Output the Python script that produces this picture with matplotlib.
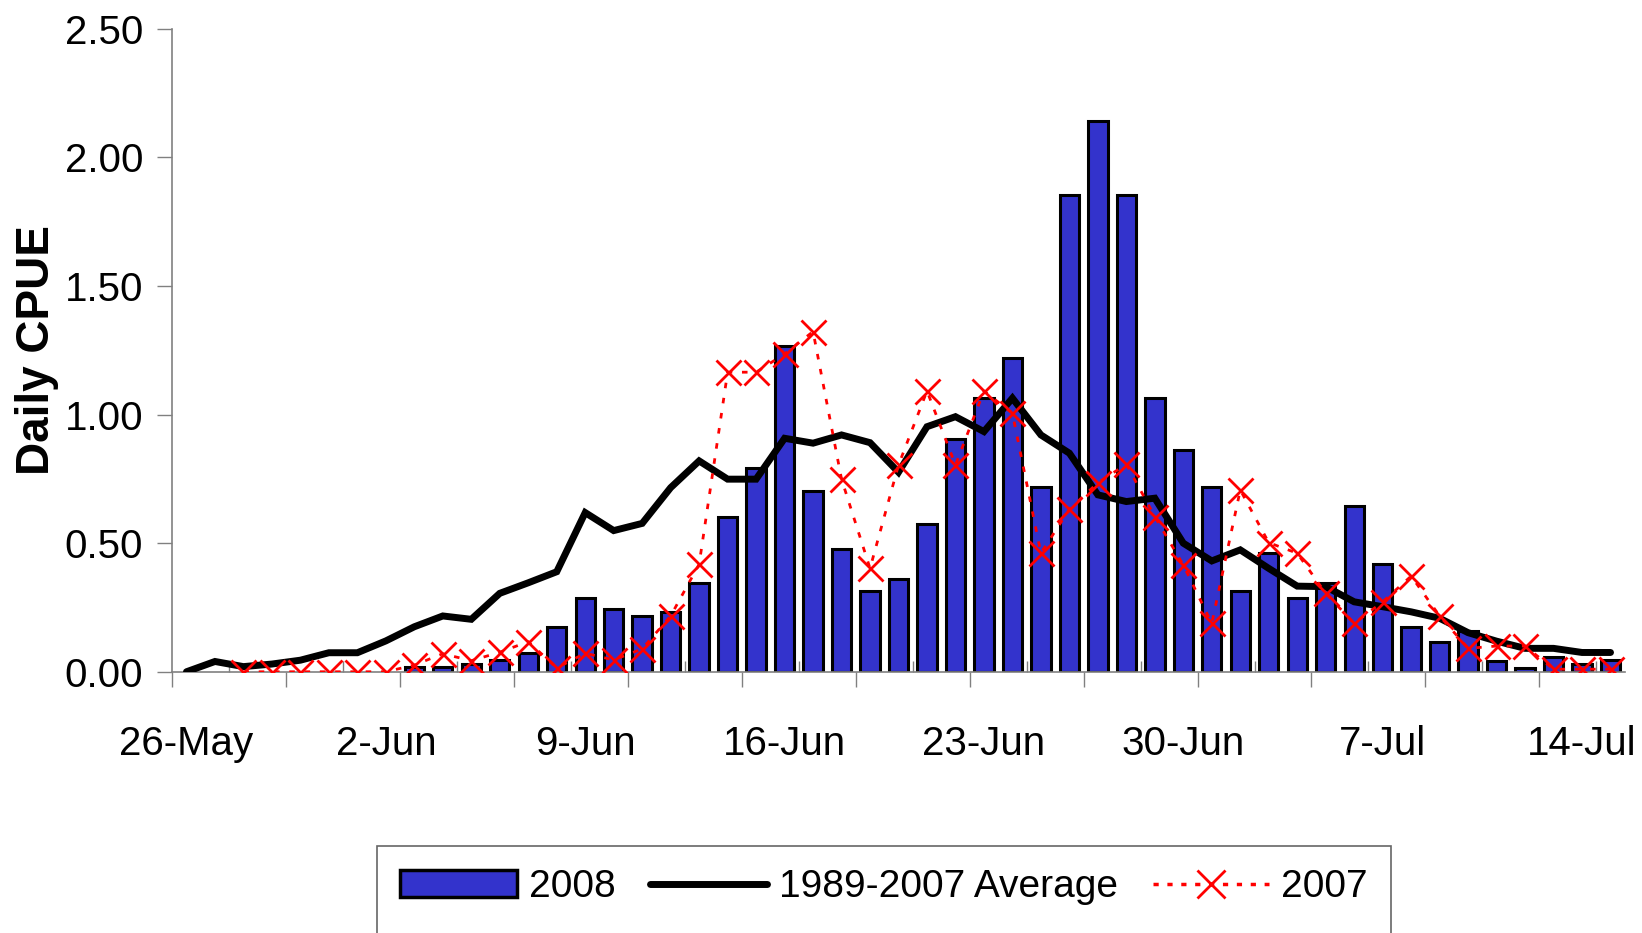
import numpy as np
import matplotlib
matplotlib.use('Agg')
from matplotlib import pyplot as plt
from matplotlib.patches import Rectangle
from matplotlib.lines import Line2D

plt.rcParams['font.family'] = ['Liberation Sans', 'DejaVu Sans']

# day index 0 = 26-May, 50 = 15-Jul
days = np.arange(51)
date_labels = ['26-May', '2-Jun', '9-Jun', '16-Jun', '23-Jun', '30-Jun', '7-Jul', '14-Jul']
label_days = [0, 7, 14, 21, 28, 35, 42, 49]

# 2008 daily CPUE (bars), starts 3-Jun (day 8)
cpue_2008_days = np.arange(8, 51)
cpue_2008 = [0.017, 0.017, 0.03, 0.045, 0.074, 0.173, 0.287, 0.244, 0.217, 0.231,
             0.344, 0.603, 0.791, 1.265, 0.704, 0.476, 0.315, 0.36, 0.575, 0.905,
             1.064, 1.219, 0.717, 1.855, 2.14, 1.855, 1.064, 0.863, 0.717, 0.315,
             0.461, 0.288, 0.346, 0.646, 0.418, 0.173, 0.114, 0.158, 0.043, 0.016,
             0.056, 0.03, 0.045]

# 1989-2007 average
avg_8907 = [0.0, 0.04, 0.02, 0.03, 0.045, 0.074, 0.074, 0.12, 0.175, 0.217,
            0.204, 0.305, 0.346, 0.389, 0.619, 0.549, 0.577, 0.716, 0.82, 0.749,
            0.749, 0.908, 0.889, 0.921, 0.891, 0.776, 0.953, 0.992, 0.934, 1.064,
            0.921, 0.85, 0.688, 0.662, 0.675, 0.5, 0.431, 0.474, 0.402, 0.333,
            0.331, 0.272, 0.253, 0.233, 0.208, 0.152, 0.119, 0.091, 0.091, 0.075,
            0.075]

# 2007, starts 28-May (day 2)
cpue_2007_days = np.arange(2, 51)
cpue_2007 = [0.0, 0.0, 0.0, 0.0, 0.0, 0.0, 0.026, 0.07, 0.043, 0.076,
             0.117, 0.015, 0.072, 0.046, 0.089, 0.217, 0.418, 1.165, 1.165, 1.236,
             1.323, 0.749, 0.402, 0.804, 1.092, 0.804, 1.092, 1.005, 0.461, 0.632,
             0.735, 0.807, 0.603, 0.415, 0.188, 0.707, 0.502, 0.461, 0.305, 0.188,
             0.272, 0.372, 0.217, 0.091, 0.1, 0.1, 0.01, 0.01, 0.01]

bar_blue = '#3333CC'
axis_grey = '#808080'

fig = plt.figure(figsize=(16.42, 9.33), dpi=100)
ax = fig.add_axes([0.1049, 0.28, 0.8846, 0.689])

ax.bar(cpue_2008_days, cpue_2008, width=0.68, color=bar_blue, edgecolor='black', linewidth=2.2, zorder=2)
ax.plot(days, avg_8907, color='black', linewidth=5, solid_joinstyle='miter', solid_capstyle='round', zorder=3)
ax.plot(cpue_2007_days, cpue_2007, color='#FF0000', linewidth=2, linestyle=(0, (2, 3.5)),
        marker='x', markersize=18, markeredgewidth=2, zorder=4)

ax.set_xlim(-0.5, 50.5)
ax.set_ylim(0, 2.5)

ax.set_yticks(np.arange(0, 2.51, 0.5))
ax.set_yticklabels(['%.2f' % v for v in np.arange(0, 2.51, 0.5)])
ax.tick_params(axis='y', direction='out', length=11, width=1, color=axis_grey, labelsize=29, pad=10)

ax.set_xticks(label_days)
ax.set_xticklabels(date_labels)
ax.set_xticks(np.arange(-0.5, 51, 4), minor=True)
ax.tick_params(axis='x', which='major', length=0, labelsize=29, pad=38)
ax.tick_params(axis='x', which='minor', direction='out', length=11, width=1, color=axis_grey)

sec = ax.secondary_xaxis('bottom')
sec.set_xticks(np.arange(1.5, 51, 4))
sec.tick_params(axis='x', direction='in', length=8, width=1, color=axis_grey, labelbottom=False)
sec.spines['bottom'].set_visible(False)

for s in ['top', 'right']:
    ax.spines[s].set_visible(False)
for s in ['left', 'bottom']:
    ax.spines[s].set_color(axis_grey)
    ax.spines[s].set_linewidth(1.2)

ax.set_ylabel('Daily CPUE', fontsize=33, fontweight='bold', labelpad=4)

# legend box runs off the bottom of the image in the original, so pad it with an empty row
blank = Line2D([], [], linestyle='none')
handles = [Rectangle((0, 0), 1, 1, facecolor=bar_blue, edgecolor='black', linewidth=2.5), blank,
           Line2D([], [], color='black', linewidth=5, solid_capstyle='round'), blank,
           Line2D([], [], color='#FF0000', linewidth=2.5, linestyle=(0, (1.5, 2.5)),
                  marker='x', markersize=20, markeredgewidth=2), blank]
labels = ['2008', '', '1989-2007 Average', '', '2007', '']
leg = fig.legend(handles, labels, loc='upper left',
                 bbox_to_anchor=(0.2296, 0.0933), ncol=3, fontsize=28, frameon=True,
                 fancybox=False, handlelength=3.0, handletextpad=0.3, columnspacing=0.9,
                 borderpad=0.6, borderaxespad=0)
leg.get_frame().set_edgecolor('#404040')
leg.get_frame().set_linewidth(1.2)

fig.savefig('out.png', dpi=100)
